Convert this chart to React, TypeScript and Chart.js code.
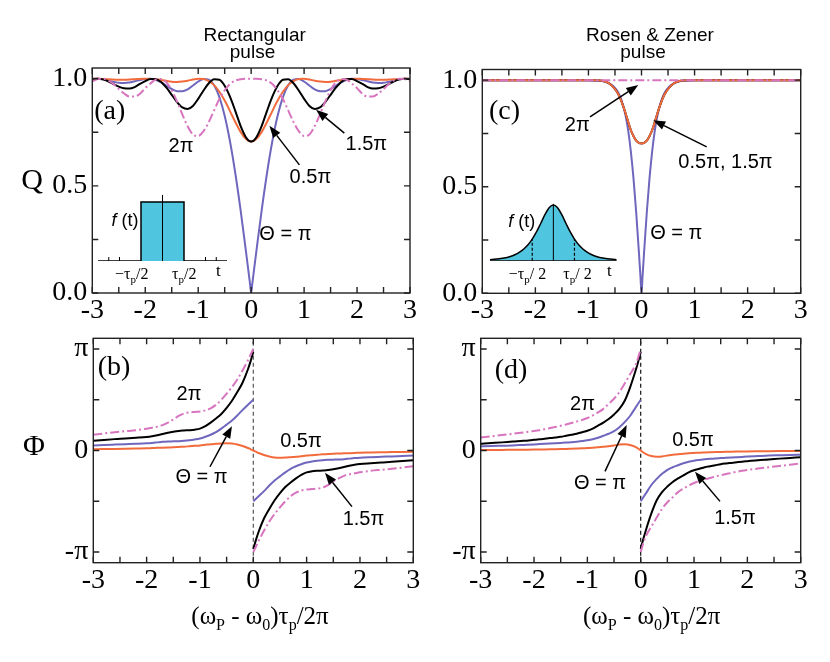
import React, { useEffect, useRef } from 'react';
import { Chart, registerables } from 'chart.js';

Chart.register(...registerables);

const W = 830;
const H = 662;
const SERIF = '"Liberation Serif", "Times New Roman", serif';
const SANS = '"Liberation Sans", Arial, sans-serif';

const C_PURPLE = '#6f67bd';
const C_ORANGE = '#f26b3c';
const C_BLACK = '#000000';
const C_PINK = '#d775bf';
const C_CYAN = '#4fc5e0';
const C_FRAME = '#222222';

// ---------- axes ----------
const X_TICKS = [-3, -2.5, -2, -1.5, -1, -0.5, 0, 0.5, 1, 1.5, 2, 2.5, 3];
const X_LABELS = ['-3', '', '-2', '', '-1', '', '0', '', '1', '', '2', '', '3'];
const Q_TICKS = [0, 0.25, 0.5, 0.75, 1];
const Q_LABELS = ['0.0', '', '0.5', '', '1.0'];
const PHI_TICKS = [-1, -0.5, 0, 0.5, 1];
const PHI_LABELS = ['-π', '', '0', '', 'π'];

// ---------- panel (a): rectangular pulse, Q ----------
const X_A = [-3, -2.9, -2.8, -2.7, -2.6, -2.5, -2.4, -2.3, -2.2, -2.1, -2, -1.9, -1.8, -1.7, -1.6, -1.5, -1.4, -1.3, -1.2, -1.1, -1, -0.9, -0.8, -0.7, -0.6, -0.5, -0.4, -0.3, -0.2, -0.1, -0.05, -0.02, 0, 0.02, 0.05, 0.1, 0.2, 0.3, 0.4, 0.5, 0.6, 0.7, 0.8, 0.9, 1, 1.1, 1.2, 1.3, 1.4, 1.5, 1.6, 1.7, 1.8, 1.9, 2, 2.1, 2.2, 2.3, 2.4, 2.5, 2.6, 2.7, 2.8, 2.9, 3];
const QA_PI = [1.0, 1.0, 0.997, 0.991, 0.986, 0.981, 0.980, 0.982, 0.988, 0.994, 0.999, 1.0, 0.994, 0.983, 0.967, 0.952, 0.942, 0.941, 0.950, 0.968, 0.987, 0.999, 0.996, 0.969, 0.914, 0.827, 0.708, 0.560, 0.388, 0.198, 0.100, 0.040,
  0,
  0.040, 0.100, 0.198, 0.388, 0.560, 0.708, 0.827, 0.914, 0.969, 0.996, 0.999, 0.987, 0.968, 0.950, 0.941, 0.942, 0.952, 0.967, 0.983, 0.994, 1.0, 0.999, 0.994, 0.988, 0.982, 0.980, 0.981, 0.986, 0.991, 0.997, 1.0, 1.0];
const QA_HALF = [1.0, 1.0, 0.999, 0.997, 0.996, 0.995, 0.995, 0.996, 0.998, 0.999, 1.0, 0.999, 0.997, 0.994, 0.990, 0.986, 0.985, 0.987, 0.991, 0.996, 1.0, 0.999, 0.989, 0.970, 0.939, 0.898, 0.849, 0.798, 0.752, 0.719, 0.710, 0.707,
  0.707,
  0.707, 0.710, 0.719, 0.752, 0.798, 0.849, 0.898, 0.939, 0.970, 0.989, 0.999, 1.0, 0.996, 0.991, 0.987, 0.985, 0.986, 0.990, 0.994, 0.997, 0.999, 1.0, 0.999, 0.998, 0.996, 0.995, 0.995, 0.996, 0.997, 0.999, 1.0, 1.0];
const QA_THREEHALF = [0.998, 1.0, 0.997, 0.988, 0.975, 0.963, 0.955, 0.954, 0.961, 0.976, 0.989, 0.999, 0.998, 0.985, 0.958, 0.925, 0.891, 0.866, 0.859, 0.873, 0.906, 0.945, 0.979, 0.998, 0.995, 0.967, 0.916, 0.850, 0.780, 0.727, 0.712, 0.708,
  0.707,
  0.708, 0.712, 0.727, 0.780, 0.850, 0.916, 0.967, 0.995, 0.998, 0.979, 0.945, 0.906, 0.873, 0.859, 0.866, 0.891, 0.925, 0.958, 0.985, 0.998, 0.999, 0.989, 0.976, 0.961, 0.954, 0.955, 0.963, 0.975, 0.988, 0.997, 1.0, 0.998];
const QA_TWO = [0.988, 0.998, 1.0, 0.992, 0.975, 0.952, 0.931, 0.917, 0.917, 0.930, 0.956, 0.978, 0.996, 0.999, 0.983, 0.946, 0.894, 0.834, 0.778, 0.740, 0.733, 0.755, 0.798, 0.852, 0.906, 0.946, 0.975, 0.991, 0.998, 1.0, 1.0, 1.0,
  1.0,
  1.0, 1.0, 1.0, 0.998, 0.991, 0.975, 0.946, 0.906, 0.852, 0.798, 0.755, 0.733, 0.740, 0.778, 0.834, 0.894, 0.946, 0.983, 0.999, 0.996, 0.978, 0.956, 0.930, 0.917, 0.917, 0.931, 0.952, 0.975, 0.992, 1.0, 0.998, 0.988];

// ---------- panel (c): Rosen & Zener pulse, Q ----------
const X_C = [-3, -2.5, -2, -1.5, -1.2, -1, -0.9, -0.8, -0.7, -0.6, -0.5, -0.45, -0.4, -0.35, -0.3, -0.25, -0.2, -0.15, -0.1, -0.05, -0.02, 0, 0.02, 0.05, 0.1, 0.15, 0.2, 0.25, 0.3, 0.35, 0.4, 0.45, 0.5, 0.6, 0.7, 0.8, 0.9, 1, 1.2, 1.5, 2, 2.5, 3];
const QC_PI = [1, 1, 1, 1, 1, 0.999, 0.998, 0.997, 0.993, 0.984, 0.964, 0.947, 0.922, 0.885, 0.834, 0.762, 0.664, 0.537, 0.38, 0.197, 0.08,
  0,
  0.08, 0.197, 0.38, 0.537, 0.664, 0.762, 0.834, 0.885, 0.922, 0.947, 0.964, 0.984, 0.993, 0.997, 0.998, 0.999, 1, 1, 1, 1, 1];
const QC_HALF = [1, 1, 1, 1, 1, 1, 1, 0.999, 0.995, 0.983, 0.958, 0.94, 0.915, 0.882, 0.845, 0.803, 0.765, 0.737, 0.716, 0.706, 0.704,
  0.703,
  0.704, 0.706, 0.716, 0.737, 0.765, 0.803, 0.845, 0.882, 0.915, 0.94, 0.958, 0.983, 0.995, 0.999, 1, 1, 1, 1, 1, 1, 1];
const QC_THREEHALF = [1, 1, 1, 1, 1, 1, 1, 0.999, 0.995, 0.983, 0.958, 0.94, 0.915, 0.882, 0.845, 0.803, 0.765, 0.737, 0.716, 0.706, 0.704,
  0.703,
  0.704, 0.706, 0.716, 0.737, 0.765, 0.803, 0.845, 0.882, 0.915, 0.94, 0.958, 0.983, 0.995, 0.999, 1, 1, 1, 1, 1, 1, 1];
const QC_TWO = [1, 1, 1, 1, 1, 1, 1, 1, 1, 1, 1, 1, 1, 1, 1, 1, 1, 1, 1, 1, 1, 1, 1, 1, 1, 1, 1, 1, 1, 1, 1, 1, 1, 1, 1, 1, 1, 1, 1, 1, 1, 1, 1];

// ---------- phase panels (units of π) ----------
const X_PL = [-3, -2.8, -2.6, -2.4, -2.2, -2, -1.9, -1.8, -1.7, -1.6, -1.5, -1.4, -1.3, -1.2, -1.1, -1, -0.9, -0.8, -0.7, -0.6, -0.5, -0.4, -0.3, -0.2, -0.1, -0.05, 0];
const X_PR = [0, 0.05, 0.1, 0.2, 0.3, 0.4, 0.5, 0.6, 0.7, 0.8, 0.9, 1, 1.1, 1.2, 1.3, 1.4, 1.5, 1.6, 1.7, 1.8, 1.9, 2, 2.2, 2.4, 2.6, 2.8, 3];

// (b) rectangular
const PB_PI_L = [0.05, 0.054, 0.058, 0.062, 0.066, 0.071, 0.075, 0.08, 0.085, 0.088, 0.09, 0.092, 0.095, 0.1, 0.108, 0.118, 0.135, 0.155, 0.18, 0.215, 0.255, 0.295, 0.345, 0.4, 0.45, 0.475, 0.5];
const PB_PI_R = [-0.5, -0.475, -0.45, -0.4, -0.345, -0.295, -0.255, -0.215, -0.18, -0.155, -0.135, -0.118, -0.108, -0.1, -0.095, -0.092, -0.09, -0.088, -0.085, -0.08, -0.075, -0.071, -0.066, -0.062, -0.058, -0.054, -0.05];
const PB_THREEHALF_L = [0.095, 0.104, 0.112, 0.118, 0.125, 0.133, 0.14, 0.15, 0.163, 0.175, 0.185, 0.193, 0.197, 0.2, 0.205, 0.215, 0.24, 0.275, 0.315, 0.36, 0.42, 0.49, 0.575, 0.67, 0.8, 0.88, 0.97];
const PB_THREEHALF_R = [-0.97, -0.88, -0.8, -0.67, -0.575, -0.49, -0.42, -0.36, -0.315, -0.275, -0.24, -0.215, -0.205, -0.2, -0.197, -0.193, -0.185, -0.175, -0.163, -0.15, -0.14, -0.133, -0.125, -0.118, -0.112, -0.104, -0.095];
const PB_TWO_L = [0.156, 0.168, 0.18, 0.19, 0.2, 0.215, 0.225, 0.235, 0.25, 0.275, 0.305, 0.34, 0.365, 0.375, 0.38, 0.385, 0.395, 0.415, 0.45, 0.5, 0.56, 0.625, 0.7, 0.79, 0.89, 0.945, 1.0];
const PB_TWO_R = [-1.0, -0.945, -0.89, -0.79, -0.7, -0.625, -0.56, -0.5, -0.45, -0.415, -0.395, -0.385, -0.38, -0.375, -0.365, -0.34, -0.305, -0.275, -0.25, -0.235, -0.225, -0.215, -0.2, -0.19, -0.18, -0.168, -0.156];
const PB_HALF_L = [0.012, 0.014, 0.016, 0.018, 0.02, 0.022, 0.024, 0.026, 0.028, 0.03, 0.032, 0.035, 0.038, 0.042, 0.046, 0.05, 0.056, 0.062, 0.066, 0.07, 0.072, 0.07, 0.06, 0.045, 0.025, 0.012, 0];
const PB_HALF_R = [0, -0.012, -0.025, -0.045, -0.06, -0.07, -0.072, -0.07, -0.066, -0.062, -0.056, -0.05, -0.046, -0.042, -0.038, -0.035, -0.032, -0.03, -0.028, -0.026, -0.024, -0.022, -0.02, -0.018, -0.016, -0.014, -0.012];

// (d) Rosen & Zener
const PD_PI_L = [0.042, 0.044, 0.047, 0.05, 0.055, 0.06, 0.063, 0.066, 0.069, 0.072, 0.075, 0.078, 0.082, 0.087, 0.093, 0.1, 0.11, 0.125, 0.145, 0.165, 0.19, 0.23, 0.28, 0.34, 0.42, 0.46, 0.5];
const PD_PI_R = [-0.5, -0.46, -0.42, -0.34, -0.28, -0.23, -0.19, -0.165, -0.145, -0.125, -0.11, -0.1, -0.093, -0.087, -0.082, -0.078, -0.075, -0.072, -0.069, -0.066, -0.063, -0.06, -0.055, -0.05, -0.047, -0.044, -0.042];
const PD_THREEHALF_L = [0.066, 0.073, 0.08, 0.088, 0.095, 0.105, 0.11, 0.116, 0.122, 0.128, 0.135, 0.145, 0.155, 0.165, 0.18, 0.195, 0.215, 0.245, 0.275, 0.31, 0.355, 0.41, 0.49, 0.62, 0.78, 0.87, 0.97];
const PD_THREEHALF_R = [-0.97, -0.87, -0.78, -0.62, -0.49, -0.41, -0.355, -0.31, -0.275, -0.245, -0.215, -0.195, -0.18, -0.165, -0.155, -0.145, -0.135, -0.128, -0.122, -0.116, -0.11, -0.105, -0.095, -0.088, -0.08, -0.073, -0.066];
const PD_TWO_L = [0.128, 0.14, 0.152, 0.165, 0.178, 0.192, 0.2, 0.21, 0.221, 0.232, 0.243, 0.256, 0.27, 0.285, 0.3, 0.32, 0.345, 0.375, 0.41, 0.46, 0.51, 0.575, 0.66, 0.75, 0.84, 0.91, 1.0];
const PD_TWO_R = [-1.0, -0.91, -0.84, -0.75, -0.66, -0.575, -0.51, -0.46, -0.41, -0.375, -0.345, -0.32, -0.3, -0.285, -0.27, -0.256, -0.243, -0.232, -0.221, -0.21, -0.2, -0.192, -0.178, -0.165, -0.152, -0.14, -0.128];
const PD_HALF_L = [0.005, 0.005, 0.006, 0.007, 0.008, 0.009, 0.01, 0.011, 0.012, 0.013, 0.014, 0.015, 0.017, 0.019, 0.021, 0.024, 0.027, 0.031, 0.036, 0.042, 0.05, 0.058, 0.062, 0.055, 0.035, 0.02, 0];
const PD_HALF_R = [0, -0.02, -0.035, -0.055, -0.062, -0.058, -0.05, -0.042, -0.036, -0.031, -0.027, -0.024, -0.021, -0.019, -0.017, -0.015, -0.014, -0.013, -0.012, -0.011, -0.01, -0.009, -0.008, -0.007, -0.006, -0.005, -0.005];

const ZERO_LINE_X = [0, 0];
const ZERO_LINE_Y = [-1.105, 1.105];

// ---------- insets ----------
const PULSE_T = [-1.5, -0.5, -0.5, 0.5, 0.5, 1.5];
const PULSE_F = [0, 0, 1, 1, 0, 0];
const PULSE_AXIS_T = [0, 0];
const PULSE_AXIS_F = [0, 1.12];
const SECH_T = [-1.5, -1.2, -1.0, -0.9, -0.8, -0.7, -0.6, -0.5, -0.4, -0.3, -0.2, -0.1, 0, 0.1, 0.2, 0.3, 0.4, 0.5, 0.6, 0.7, 0.8, 0.9, 1.0, 1.2, 1.5];
const SECH_F = [0.016, 0.043, 0.081, 0.112, 0.154, 0.211, 0.287, 0.388, 0.516, 0.668, 0.825, 0.951, 1.0, 0.951, 0.825, 0.668, 0.516, 0.388, 0.287, 0.211, 0.154, 0.112, 0.081, 0.043, 0.016];
const SECH_AXIS_F = [0, 1.02];
const TAU_MARK_T = [-0.5, 0.5];
const TAU_MARK_F = [0.388, 0.388];
const BASE_T = [-1.5, 1.5];
const BASE_F = [0, 0];

// ---------- helpers ----------
const pts = (xs: number[], ys: number[]) => xs.map((x, i) => ({ x, y: ys[i] }));
const split = (xl: number[], yl: number[], xr: number[], yr: number[]) => [
  ...pts(xl, yl), { x: 0, y: null as any }, ...pts(xr, yr),
];
const joined = (xl: number[], yl: number[], xr: number[], yr: number[]) => [
  ...pts(xl, yl), ...pts(xr.slice(1), yr.slice(1)),
];

type Part = { t: string; f: string; dy?: number };
type TextItem = { parts: Part[]; x: number; y: number; px?: boolean };
type Arrow = { x1: number; y1: number; x2: number; y2: number };
type Decor = {
  frame?: boolean; xTicks?: number[]; yTicks?: number[]; baseTicks?: number[];
  texts: TextItem[]; arrows: Arrow[];
};

const sans = (t: string, size = 20): Part[] => [{ t, f: `${size}px ${SANS}` }];
const serif = (t: string, size = 28): Part[] => [{ t, f: `${size}px ${SERIF}` }];
const tauLabel = (pre: string, post: string): Part[] => [
  { t: pre + 'τ', f: `16px ${SERIF}` },
  { t: 'p', f: `11px ${SERIF}`, dy: 5 },
  { t: post, f: `16px ${SERIF}` },
];
const fLabel: Part[] = [
  { t: 'f', f: `italic 18px ${SANS}` },
  { t: ' (t)', f: `18px ${SANS}` },
];
const xTitle: Part[] = [
  { t: '(ω', f: `25px ${SERIF}` },
  { t: 'P', f: `16px ${SERIF}`, dy: 9 },
  { t: ' - ω', f: `25px ${SERIF}` },
  { t: '0', f: `16px ${SERIF}`, dy: 9 },
  { t: ')τ', f: `25px ${SERIF}` },
  { t: 'p', f: `16px ${SERIF}`, dy: 9 },
  { t: '/2π', f: `25px ${SERIF}` },
];

function makeDecor(d: Decor) {
  return {
    id: 'decor',
    afterDraw(chart: any) {
      const ctx = chart.ctx as CanvasRenderingContext2D;
      const a = chart.chartArea;
      const xs = chart.scales.x;
      const ys = chart.scales.y;
      ctx.save();
      if (d.frame) {
        ctx.strokeStyle = C_FRAME;
        ctx.lineWidth = 1.4;
        ctx.strokeRect(a.left, a.top, a.right - a.left, a.bottom - a.top);
        const L = 6;
        ctx.beginPath();
        (d.xTicks || []).forEach((v) => {
          const p = xs.getPixelForValue(v);
          ctx.moveTo(p, a.bottom); ctx.lineTo(p, a.bottom - L);
          ctx.moveTo(p, a.top); ctx.lineTo(p, a.top + L);
        });
        (d.yTicks || []).forEach((v) => {
          const p = ys.getPixelForValue(v);
          ctx.moveTo(a.left, p); ctx.lineTo(a.left + L, p);
          ctx.moveTo(a.right, p); ctx.lineTo(a.right - L, p);
        });
        ctx.stroke();
      }
      if (d.baseTicks) {
        ctx.strokeStyle = '#000';
        ctx.lineWidth = 1;
        ctx.beginPath();
        const y0 = ys.getPixelForValue(0);
        d.baseTicks.forEach((v) => {
          const p = xs.getPixelForValue(v);
          ctx.moveTo(p, y0); ctx.lineTo(p, y0 - 4);
        });
        ctx.stroke();
      }
      d.arrows.forEach((ar) => {
        const x1 = xs.getPixelForValue(ar.x1), y1 = ys.getPixelForValue(ar.y1);
        const x2 = xs.getPixelForValue(ar.x2), y2 = ys.getPixelForValue(ar.y2);
        const ang = Math.atan2(y2 - y1, x2 - x1);
        const hl = 12, hw = 4.5;
        const bx = x2 - hl * Math.cos(ang), by = y2 - hl * Math.sin(ang);
        ctx.strokeStyle = '#000';
        ctx.fillStyle = '#000';
        ctx.lineWidth = 1.5;
        ctx.beginPath(); ctx.moveTo(x1, y1); ctx.lineTo(bx, by); ctx.stroke();
        ctx.beginPath();
        ctx.moveTo(x2, y2);
        ctx.lineTo(bx + hw * Math.sin(ang), by - hw * Math.cos(ang));
        ctx.lineTo(bx - hw * Math.sin(ang), by + hw * Math.cos(ang));
        ctx.closePath(); ctx.fill();
      });
      ctx.fillStyle = '#000';
      ctx.textBaseline = 'middle';
      ctx.textAlign = 'left';
      d.texts.forEach((tx) => {
        const cx = tx.px ? tx.x : xs.getPixelForValue(tx.x);
        const cy = tx.px ? tx.y : ys.getPixelForValue(tx.y);
        let total = 0;
        const widths = tx.parts.map((p) => { ctx.font = p.f; const w = ctx.measureText(p.t).width; total += w; return w; });
        let cur = cx - total / 2;
        tx.parts.forEach((p, i) => {
          ctx.font = p.f;
          ctx.fillText(p.t, cur, cy + (p.dy || 0));
          cur += widths[i];
        });
      });
      ctx.restore();
    },
  };
}

type Area = { l: number; t: number; r: number; b: number };
const XAX_H = 40;
const YAX_W = 70;
const TICK_FONT = 28;

function mainConfig(area: Area, ymin: number, ymax: number, yTicks: number[], yLabels: string[], datasets: any[], decor: Decor): any {
  return {
    type: 'line',
    data: { datasets },
    options: {
      animation: false,
      responsive: false,
      devicePixelRatio: 1,
      events: [],
      layout: { padding: { left: area.l - YAX_W, right: W - area.r, top: area.t, bottom: H - area.b - XAX_H } },
      plugins: { legend: { display: false }, tooltip: { enabled: false } },
      elements: { point: { radius: 0 }, line: { borderWidth: 2 } },
      scales: {
        x: {
          type: 'linear', min: -3, max: 3,
          grid: { display: false, drawTicks: false }, border: { display: false },
          afterBuildTicks: (s: any) => { s.ticks = X_TICKS.map((v) => ({ value: v })); },
          afterFit: (s: any) => { s.height = XAX_H; },
          ticks: {
            autoSkip: false, maxRotation: 0, minRotation: 0, padding: 1, color: '#000',
            font: { family: SERIF, size: TICK_FONT },
            callback: (_v: any, i: number) => X_LABELS[i],
          },
        },
        y: {
          type: 'linear', min: ymin, max: ymax,
          grid: { display: false, drawTicks: false }, border: { display: false },
          afterBuildTicks: (s: any) => { s.ticks = yTicks.map((v) => ({ value: v })); },
          afterFit: (s: any) => { s.width = YAX_W; },
          ticks: {
            autoSkip: false, padding: 5, color: '#000',
            font: { family: SERIF, size: TICK_FONT },
            callback: (_v: any, i: number) => yLabels[i],
          },
        },
      },
    },
    plugins: [makeDecor(decor)],
  };
}

function insetConfig(area: Area, ymax: number, datasets: any[], decor: Decor): any {
  return {
    type: 'line',
    data: { datasets },
    options: {
      animation: false,
      responsive: false,
      devicePixelRatio: 1,
      events: [],
      layout: { padding: { left: area.l, right: W - area.r, top: area.t, bottom: H - area.b } },
      plugins: { legend: { display: false }, tooltip: { enabled: false } },
      elements: { point: { radius: 0 } },
      scales: {
        x: { type: 'linear', min: -1.5, max: 1.5, display: false },
        y: { type: 'linear', min: 0, max: ymax, display: false },
      },
    },
    plugins: [makeDecor(decor)],
  };
}

const curve = (data: any[], color: string, dash?: number[]) => ({
  data, borderColor: color, borderWidth: 2, fill: false,
  cubicInterpolationMode: 'monotone', borderDash: dash || [],
  pointRadius: 0,
});
const DASHDOT = [9, 3, 2, 3];

function buildConfigs(): any[] {
  const cfgA = mainConfig(
    { l: 92.3, t: 68, r: 410, b: 293 }, 0, 1.05, Q_TICKS, Q_LABELS,
    [
      curve(pts(X_A, QA_TWO), C_PINK, DASHDOT),
      curve(pts(X_A, QA_THREEHALF), C_BLACK),
      curve(pts(X_A, QA_HALF), C_ORANGE),
      curve(pts(X_A, QA_PI), C_PURPLE),
    ],
    {
      frame: true, xTicks: X_TICKS, yTicks: Q_TICKS,
      texts: [
        { parts: sans('Rectangular', 19), x: 254.7, y: 36, px: true },
        { parts: sans('pulse', 19), x: 252.5, y: 53, px: true },
        { parts: serif('Q', 30), x: 32, y: 181, px: true },
        { parts: serif('(a)'), x: -2.67, y: 0.846 },
        { parts: sans('2π'), x: -1.325, y: 0.682 },
        { parts: sans('1.5π'), x: 2.175, y: 0.692 },
        { parts: sans('0.5π'), x: 1.119, y: 0.537 },
        { parts: sans('Θ = π'), x: 0.647, y: 0.271 },
      ],
      arrows: [
        { x1: 0.911, y1: 0.598, x2: 0.345, y2: 0.78 },
        { x1: 1.76, y1: 0.746, x2: 1.226, y2: 0.855 },
      ],
    },
  );

  const cfgC = mainConfig(
    { l: 482.3, t: 69.5, r: 800.7, b: 293.3 }, 0, 1.05, Q_TICKS, Q_LABELS,
    [
      curve(pts(X_C, QC_TWO), C_PINK, DASHDOT),
      curve(pts(X_C, QC_HALF), C_ORANGE),
      curve(pts(X_C, QC_THREEHALF), C_BLACK),
      curve(pts(X_C, QC_PI), C_PURPLE),
    ],
    {
      frame: true, xTicks: X_TICKS, yTicks: Q_TICKS,
      texts: [
        { parts: sans('Rosen & Zener', 19), x: 650, y: 36, px: true },
        { parts: sans('pulse', 19), x: 643, y: 53, px: true },
        { parts: serif('(c)'), x: -2.58, y: 0.85 },
        { parts: sans('2π'), x: -1.21, y: 0.789 },
        { parts: sans('0.5π, 1.5π'), x: 1.583, y: 0.613 },
        { parts: sans('Θ = π'), x: 0.656, y: 0.28 },
      ],
      arrows: [
        { x1: -0.97, y1: 0.828, x2: -0.06, y2: 0.977 },
        { x1: 1.229, y1: 0.687, x2: 0.222, y2: 0.812 },
      ],
    },
  );

  const zeroLine = {
    data: pts(ZERO_LINE_X, ZERO_LINE_Y), borderColor: '#555', borderWidth: 1.2,
    borderDash: [4, 3], fill: false, tension: 0, pointRadius: 0,
  };

  const cfgB = mainConfig(
    { l: 93.3, t: 338.3, r: 413.3, b: 562.7 }, -1.105, 1.105, PHI_TICKS, PHI_LABELS,
    [
      curve(split(X_PL, PB_TWO_L, X_PR, PB_TWO_R), C_PINK, DASHDOT),
      curve(split(X_PL, PB_THREEHALF_L, X_PR, PB_THREEHALF_R), C_BLACK),
      curve(split(X_PL, PB_PI_L, X_PR, PB_PI_R), C_PURPLE),
      curve(joined(X_PL, PB_HALF_L, X_PR, PB_HALF_R), C_ORANGE),
      zeroLine,
    ],
    {
      frame: true, xTicks: X_TICKS, yTicks: PHI_TICKS,
      texts: [
        { parts: serif('Φ', 30), x: 34, y: 447, px: true },
        { parts: xTitle, x: 260, y: 617, px: true },
        { parts: serif('(b)'), x: -2.61, y: 0.816 },
        { parts: sans('2π'), x: -1.206, y: 0.55 },
        { parts: sans('0.5π'), x: 0.894, y: 0.087 },
        { parts: sans('Θ = π'), x: -0.971, y: -0.268 },
        { parts: sans('1.5π'), x: 2.066, y: -0.677 },
      ],
      arrows: [
        { x1: -0.812, y1: -0.16, x2: -0.4, y2: 0.24 },
        { x1: 1.85, y1: -0.553, x2: 1.344, y2: -0.22 },
      ],
    },
  );

  const cfgD = mainConfig(
    { l: 480.7, t: 338.3, r: 800.7, b: 562.7 }, -1.105, 1.105, PHI_TICKS, PHI_LABELS,
    [
      curve(split(X_PL, PD_TWO_L, X_PR, PD_TWO_R), C_PINK, DASHDOT),
      curve(split(X_PL, PD_THREEHALF_L, X_PR, PD_THREEHALF_R), C_BLACK),
      curve(split(X_PL, PD_PI_L, X_PR, PD_PI_R), C_PURPLE),
      curve(joined(X_PL, PD_HALF_L, X_PR, PD_HALF_R), C_ORANGE),
      { ...zeroLine, borderColor: '#111' },
    ],
    {
      frame: true, xTicks: X_TICKS, yTicks: PHI_TICKS,
      texts: [
        { parts: xTitle, x: 651.7, y: 617, px: true },
        { parts: serif('(d)'), x: -2.43, y: 0.786 },
        { parts: sans('2π'), x: -1.09, y: 0.451 },
        { parts: sans('0.5π'), x: 0.98, y: 0.097 },
        { parts: sans('Θ = π'), x: -0.763, y: -0.327 },
        { parts: sans('1.5π'), x: 1.768, y: -0.667 },
      ],
      arrows: [
        { x1: -0.669, y1: -0.206, x2: -0.263, y2: 0.25 },
        { x1: 1.487, y1: -0.501, x2: 1.018, y2: -0.21 },
      ],
    },
  );

  const cfgInA = insetConfig(
    { l: 98, t: 190.2, r: 227, b: 261 }, 1.2,
    [
      { data: pts(PULSE_AXIS_T, PULSE_AXIS_F), borderColor: '#000', borderWidth: 1, tension: 0, fill: false },
      { data: pts(PULSE_T, PULSE_F), borderColor: '#000', borderWidth: 1.5, tension: 0, fill: 'origin', backgroundColor: C_CYAN },
    ],
    {
      baseTicks: [-1.25, -1, 1, 1.25],
      texts: [
        { parts: tauLabel('−', '/2'), x: -0.716, y: -0.237 },
        { parts: tauLabel('', '/2'), x: 0.505, y: -0.237 },
        { parts: serif('t', 17), x: 1.302, y: -0.186 },
        { parts: fLabel, x: -0.872, y: 0.678 },
      ],
      arrows: [],
    },
  );

  const cfgInC = insetConfig(
    { l: 490, t: 199.4, r: 616.7, b: 260.7 }, 1.1,
    [
      { data: pts(PULSE_AXIS_T, SECH_AXIS_F), borderColor: '#000', borderWidth: 1, tension: 0, fill: false },
      { data: pts([TAU_MARK_T[0], TAU_MARK_T[0]], [0, TAU_MARK_F[0]]), borderColor: '#000', borderWidth: 1.2, borderDash: [3, 2], tension: 0, fill: false },
      { data: pts([TAU_MARK_T[1], TAU_MARK_T[1]], [0, TAU_MARK_F[1]]), borderColor: '#000', borderWidth: 1.2, borderDash: [3, 2], tension: 0, fill: false },
      { data: pts(BASE_T, BASE_F), borderColor: '#000', borderWidth: 1.5, tension: 0, fill: false },
      { data: pts(SECH_T, SECH_F), borderColor: '#000', borderWidth: 1.5, cubicInterpolationMode: 'monotone', fill: 'origin', backgroundColor: C_CYAN },
    ],
    {
      texts: [
        { parts: tauLabel('−', '/ 2'), x: -0.611, y: -0.257 },
        { parts: tauLabel('', '/ 2'), x: 0.573, y: -0.257 },
        { parts: serif('t', 17), x: 1.327, y: -0.203 },
        { parts: fLabel, x: -0.749, y: 0.695 },
      ],
      arrows: [],
    },
  );

  return [cfgA, cfgC, cfgB, cfgD, cfgInA, cfgInC];
}

export default function App() {
  const r0 = useRef<HTMLCanvasElement>(null);
  const r1 = useRef<HTMLCanvasElement>(null);
  const r2 = useRef<HTMLCanvasElement>(null);
  const r3 = useRef<HTMLCanvasElement>(null);
  const r4 = useRef<HTMLCanvasElement>(null);
  const r5 = useRef<HTMLCanvasElement>(null);
  const refs = [r0, r1, r2, r3, r4, r5];

  useEffect(() => {
    const cfgs = buildConfigs();
    const charts = cfgs.map((c, i) => new Chart(refs[i].current as HTMLCanvasElement, c));
    return () => charts.forEach((c) => c.destroy());
  }, []);

  return (
    <div style={{ position: 'absolute', left: 0, top: 0, width: W, height: H, background: '#ffffff', overflow: 'hidden' }}>
      {refs.map((r, i) => (
        <canvas key={i} ref={r} width={W} height={H} style={{ position: 'absolute', left: 0, top: 0, width: W, height: H }} />
      ))}
    </div>
  );
}
